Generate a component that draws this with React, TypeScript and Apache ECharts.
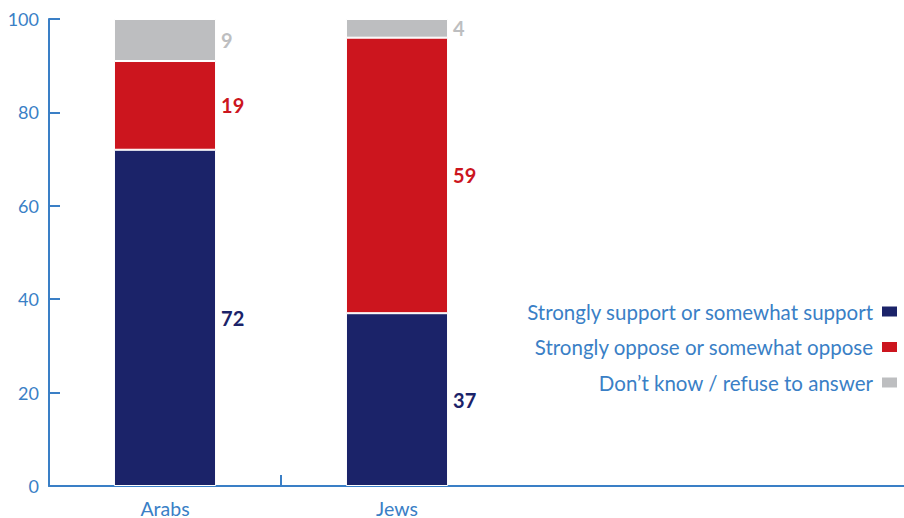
import React, { useEffect, useRef } from "react";
import * as echarts from "echarts";

const categories = ["Arabs", "Jews", "", "", ""];
const supportValues = [72, 37];
const opposeValues = [19, 59];
const dontKnowValues = [9, 4];
const seriesNames = [
  "Strongly support or somewhat support",
  "Strongly oppose or somewhat oppose",
  "Don\u2019t know / refuse to answer",
];
const yTicks = [0, 20, 40, 60, 80, 100];

const BLUE = "#3a7fc6";
const NAVY = "#1b2369";
const RED = "#cc151e";
const GRAY = "#bdbec0";
const FONT = "Lato, 'Open Sans', sans-serif";

export default function App() {
  const ref = useRef<HTMLDivElement>(null);
  useEffect(() => {
    if (!ref.current) return;
    const chart = echarts.init(ref.current, undefined, { renderer: "svg" });
    const mk = (name: string, data: number[], color: string, labelColor: string) => ({
      name,
      type: "bar",
      stack: "total",
      barWidth: "44%",
      data,
      itemStyle: { color, borderColor: "#ffffff", borderWidth: 1 },
      label: {
        show: true,
        position: "right",
        distance: 5,
        color: labelColor,
        fontFamily: FONT,
        fontWeight: "bold",
        fontSize: 20,
      },
    });
    chart.setOption({
      animation: false,
      textStyle: { fontFamily: FONT },
      grid: {
        left: 49,
        top: 19,
        width: 1160,
        bottom: 32,
        containLabel: false,
        outerBoundsMode: "none",
      },
      legend: {
        data: seriesNames,
        orient: "vertical",
        right: 0,
        top: 296,
        align: "right",
        itemWidth: 17,
        itemHeight: 12,
        itemGap: 14.5,
        icon: "rect",
        selectedMode: false,
        textStyle: { color: BLUE, fontSize: 20.5, fontFamily: FONT, padding: [0, 3, 0, 0] },
      },
      xAxis: {
        type: "category",
        data: categories,
        axisLine: { lineStyle: { color: BLUE, width: 2 } },
        axisTick: {
          show: true,
          inside: true,
          length: 11,
          interval: (index: number) => index === 1 || index === 4,
          lineStyle: { color: BLUE, width: 2 },
        },
        axisLabel: { color: BLUE, fontSize: 19.5, fontFamily: FONT, margin: 12 },
      },
      yAxis: {
        type: "value",
        min: 0,
        max: 100,
        interval: 20,
        splitLine: { show: false },
        axisLine: { show: true, lineStyle: { color: BLUE, width: 2 } },
        axisTick: { show: true, inside: true, length: 11, lineStyle: { color: BLUE, width: 2 } },
        axisLabel: {
          color: BLUE,
          fontSize: 18,
          fontFamily: FONT,
          margin: 10,
          formatter: (v: number) => (yTicks.includes(v) ? String(v) : ""),
        },
      },
      series: [
        mk(seriesNames[0], supportValues, NAVY, NAVY),
        mk(seriesNames[1], opposeValues, RED, RED),
        mk(seriesNames[2], dontKnowValues, GRAY, GRAY),
      ],
    });
    return () => chart.dispose();
  }, []);
  return (
    <div
      ref={ref}
      style={{ position: "absolute", left: 0, top: 0, width: 904, height: 518, background: "#fff" }}
    />
  );
}
